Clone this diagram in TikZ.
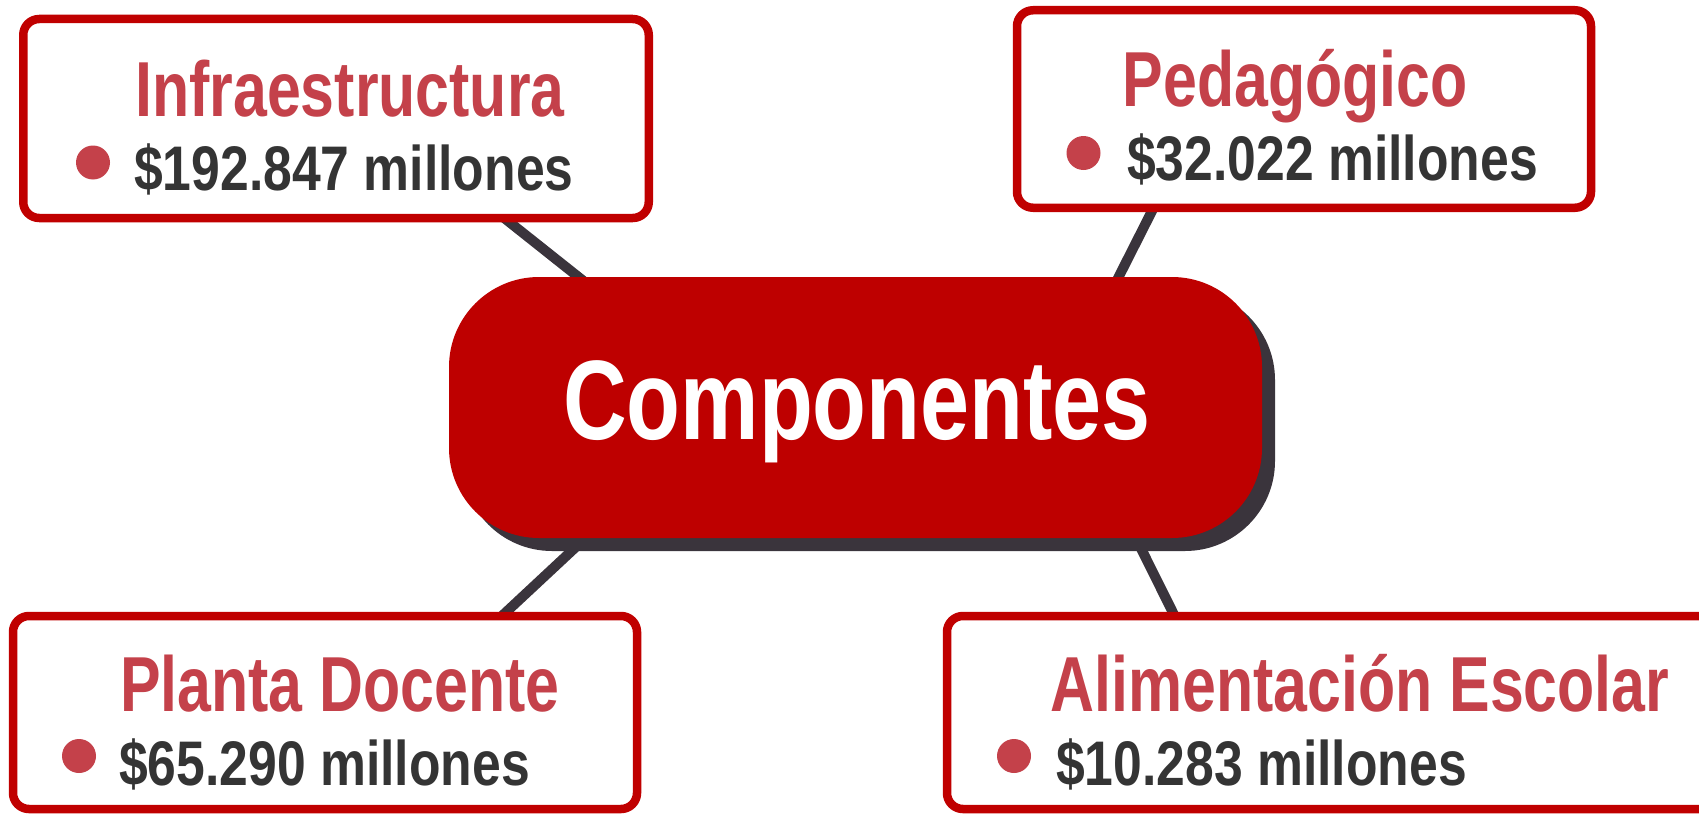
\documentclass[tikz,border=0pt]{standalone}
\usepackage{fontspec}
\newfontfamily\condT[FakeStretch=0.78]{Liberation Sans}
\newfontfamily\condV[FakeStretch=0.82]{Liberation Sans}
\usetikzlibrary{calc,backgrounds}
\definecolor{boxred}{HTML}{C00000}
\definecolor{titlered}{HTML}{C4414A}
\definecolor{valgray}{HTML}{343434}
\definecolor{centred}{HTML}{BE0000}
\definecolor{shade}{HTML}{3A343C}
\tikzset{
  box/.style={draw=boxred, line width=8.5pt, fill=white, rounded corners=16pt, inner sep=0pt},
  ttl/.style={anchor=base, text=titlered, font=\condT\bfseries\fontsize{78}{80}\selectfont, inner sep=0pt},
  val/.style={anchor=base west, text=valgray, font=\condV\bfseries\fontsize{63}{65}\selectfont, inner sep=0pt},
  dot/.style={circle, fill=titlered, minimum size=34pt, inner sep=0pt},
  conn/.style={draw=shade, line width=10pt},
  central/.style={fill=centred, rounded corners=90pt, minimum width=813pt, minimum height=261pt, inner sep=0pt},
  centshadow/.style={fill=shade, rounded corners=90pt, minimum width=813pt, minimum height=261pt, inner sep=0pt},
  centtext/.style={anchor=base, text=white, font=\condT\bfseries\fontsize{113}{115}\selectfont, inner sep=0pt}
}
\begin{document}
\begin{tikzpicture}[x=1pt,y=-1pt]
\useasboundingbox (0,0) rectangle (1699,816);
\clip (0,0) rectangle (1699,816);
% central node with shadow
\node[centshadow] (cs) at (868.5,420.5) {};
\node[central] (c) at (855.5,407.5) {};
\node[centtext] (ct) at (857,439) {Componentes};
% boxes
\node[box, minimum width=625.5pt, minimum height=199pt] (b1) at (336,118.5) {};
\node[box, minimum width=574pt, minimum height=197.5pt] (b2) at (1304,109) {};
\node[box, minimum width=624pt, minimum height=193pt] (b3) at (325,712.5) {};
\node[box, minimum width=769pt, minimum height=193pt] (b4) at (1331.5,712.5) {};
% box texts
\node[ttl] (t1) at (350,116) {Infraestructura};
\node[dot] (d1) at (93,162.5) {};
\node[val] (v1) at (134,190) {\$192.847 millones};
\node[ttl] (t2) at (1295,106) {Pedagógico};
\node[dot] (d2) at (1083.5,153) {};
\node[val] (v2) at (1127,180) {\$32.022 millones};
\node[ttl] (t3) at (340,711) {Planta Docente};
\node[dot] (d3) at (79,756) {};
\node[val] (v3) at (119,785.5) {\$65.290 millones};
\node[ttl] (t4) at (1360,711) {Alimentación Escolar};
\node[dot] (d4) at (1014,756) {};
\node[val] (v4) at (1056,785.5) {\$10.283 millones};
% connectors
\begin{scope}[on background layer]
\draw[conn] ($(b1.south)+(166,-6)$) -- ($(c.north)+(-232,36)$);
\draw[conn] ($(b2.south)+(-148,-9)$) -- ($(c.north)+(244.5,37)$);
\draw[conn] ($(c.south)+(-230.5,-37)$) -- ($(b3.north)+(175,6)$);
\draw[conn] ($(c.south)+(264.5,-32)$) -- ($(b4.north)+(-155,8)$);
\end{scope}
\end{tikzpicture}
\end{document}
